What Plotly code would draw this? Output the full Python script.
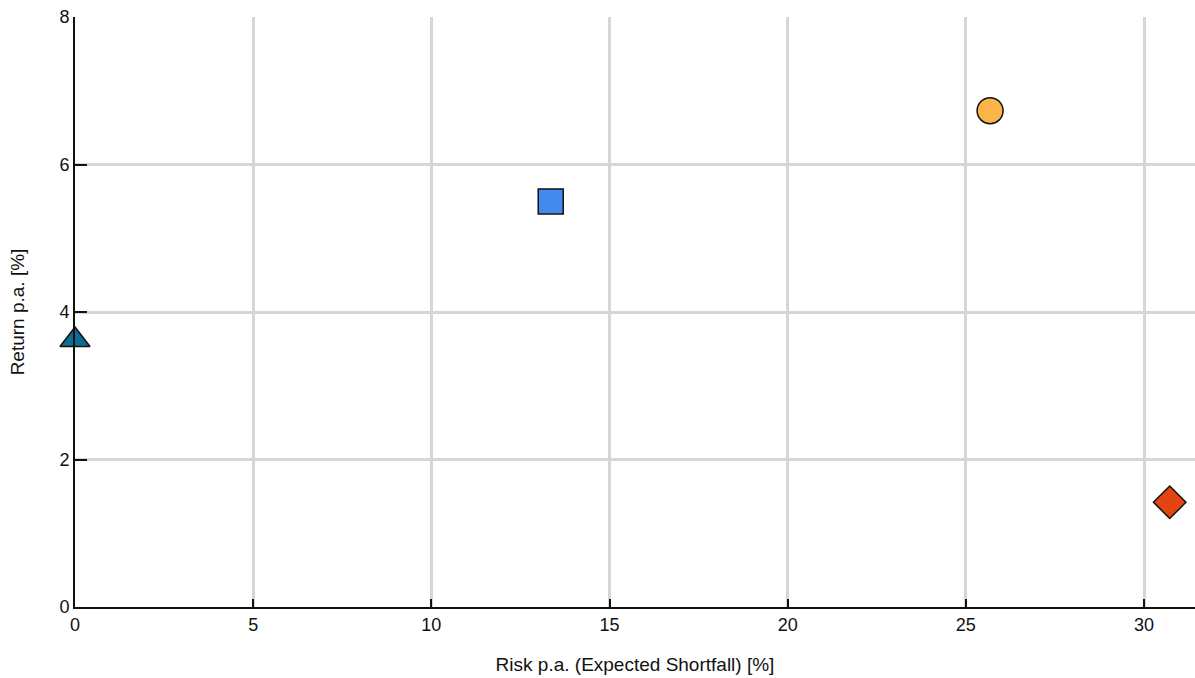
import plotly.graph_objects as go

names = ["Triangle", "Square", "Circle", "Diamond"]
risk = [0.0, 13.35, 25.68, 30.72]
ret = [3.62, 5.50, 6.73, 1.42]
symbols = ["triangle-up", "square", "circle", "diamond"]
colors = ["#0f6a94", "#448aed", "#fbb447", "#e2450f"]
sizes = [26, 25, 26, 25]

fig = go.Figure()
for n, xv, yv, s, c, sz in zip(names, risk, ret, symbols, colors, sizes):
    fig.add_trace(go.Scatter(
        x=[xv], y=[yv], mode="markers", name=n, showlegend=False,
        marker=dict(symbol=s, color=c, size=sz, line=dict(color="#111111", width=1.5)),
        cliponaxis=False,
    ))

font = dict(family="Liberation Sans, Arial, sans-serif", size=16, color="#111111")
tickfont = dict(family="Liberation Sans, Arial, sans-serif", size=18, color="#111111")
fig.update_layout(
    width=1195, height=678,
    margin=dict(l=75, r=0, t=17, b=71),
    paper_bgcolor="white", plot_bgcolor="white",
    font=font,
    xaxis=dict(
        range=[0, 31.43], tickvals=[0, 5, 10, 15, 20, 25, 30],
        showgrid=True, gridcolor="#d6d6d6", gridwidth=3,
        zeroline=False, showline=True, linecolor="#111111", linewidth=2,
        ticks="inside", ticklen=8, tickwidth=2, tickcolor="#111111",
        tickfont=tickfont,
        title=dict(text="Risk p.a. (Expected Shortfall) [%]", standoff=24),
        layer="above traces",
    ),
    yaxis=dict(
        range=[0, 8], tickvals=[0, 2, 4, 6, 8],
        showgrid=True, gridcolor="#d6d6d6", gridwidth=3,
        zeroline=False, showline=True, linecolor="#111111", linewidth=2,
        ticks="inside", ticklen=12, tickwidth=2, tickcolor="#111111",
        tickfont=tickfont,
        title=dict(text="Return p.a. [%]", standoff=30),
        layer="above traces",
    ),
)
fig.write_html(
    "out.html",
    config={"displayModeBar": False},
    post_script="document.body.style.margin='0';document.body.style.overflow='hidden';",
)
